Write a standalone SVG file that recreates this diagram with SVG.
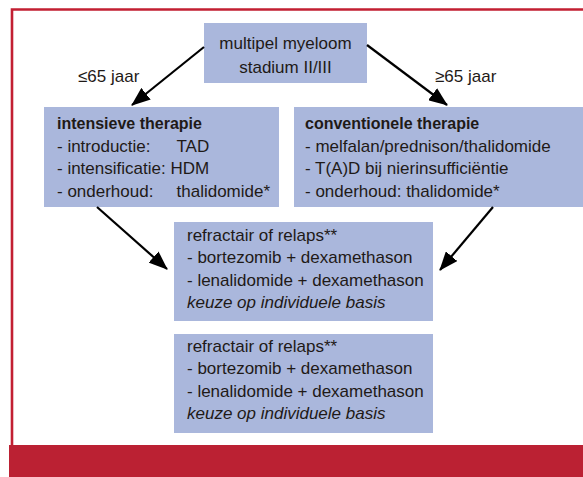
<svg xmlns="http://www.w3.org/2000/svg" width="583" height="477" viewBox="0 0 583 477">
<style>
.box{fill:#aab7dc}
.t{font-family:"Liberation Sans",Arial,sans-serif;font-size:17px;fill:#1f1a17}
.b{font-weight:bold;font-size:16px}
.i{font-style:italic}
.c{text-anchor:middle}
.conn line{stroke:#000;stroke-width:2.2}
</style>
<defs>
<marker id="ah" markerWidth="19" markerHeight="15" refX="18" refY="7.5" orient="auto" markerUnits="userSpaceOnUse">
<path d="M0,0 L19,7.5 L0,15 z" fill="#000"/>
</marker>
</defs>
<rect x="0" y="0" width="583" height="477" fill="#fff"/>
<path d="M12,445 V9.5 H583" fill="none" stroke="#c21f32" stroke-width="2.6"/>
<rect x="9" y="445" width="574" height="32" fill="#bb2133"/>

<g id="top">
<rect class="box" x="204" y="23" width="163" height="60"/>
<text class="t c" x="285.5" y="49">multipel myeloom</text>
<text class="t c" x="285.5" y="73">stadium II/III</text>
</g>

<g id="intensive">
<rect class="box" x="44" y="107" width="235" height="100"/>
<text class="t b" x="57" y="129">intensieve therapie</text>
<text class="t" x="57" y="152">- introductie:</text>
<text class="t" x="176.5" y="152">TAD</text>
<text class="t" x="57" y="174">- intensificatie: HDM</text>
<text class="t" x="57" y="197">- onderhoud:</text>
<text class="t" x="176.5" y="197">thalidomide*</text>
</g>

<g id="conventional">
<rect class="box" x="294" y="107" width="289" height="100"/>
<text class="t b" x="305" y="129">conventionele therapie</text>
<text class="t" x="305" y="152">- melfalan/prednison/thalidomide</text>
<text class="t" x="305" y="174">- T(A)D bij nierinsufficiëntie</text>
<text class="t" x="305" y="197">- onderhoud: thalidomide*</text>
</g>

<g id="relaps1">
<rect class="box" x="174" y="222" width="259" height="99"/>
<text class="t" x="187" y="241">refractair of relaps**</text>
<text class="t" x="187" y="263">- bortezomib + dexamethason</text>
<text class="t" x="187" y="286">- lenalidomide + dexamethason</text>
<text class="t i" x="187" y="308">keuze op individuele basis</text>
</g>

<g id="relaps2">
<rect class="box" x="174" y="334" width="259" height="99"/>
<text class="t" x="187" y="352">refractair of relaps**</text>
<text class="t" x="187" y="374">- bortezomib + dexamethason</text>
<text class="t" x="187" y="397">- lenalidomide + dexamethason</text>
<text class="t i" x="187" y="419">keuze op individuele basis</text>
</g>

<g id="labels">
<text class="t" x="78" y="82">≤65 jaar</text>
<text class="t" x="435" y="82">≥65 jaar</text>
</g>

<g id="connectors" class="conn">
<line x1="204" y1="47" x2="132" y2="105" marker-end="url(#ah)"/>
<line x1="367" y1="45" x2="447" y2="105" marker-end="url(#ah)"/>
<line x1="97" y1="207" x2="167" y2="269" marker-end="url(#ah)"/>
<line x1="493" y1="207" x2="440" y2="270" marker-end="url(#ah)"/>
</g>
</svg>
